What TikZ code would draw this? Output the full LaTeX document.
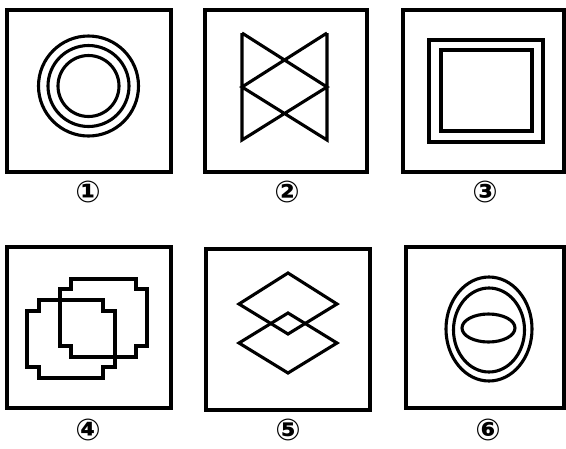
\documentclass[tikz,border=0pt]{standalone}
\usepackage{fontspec}
\newfontfamily\symfont{DejaVu Sans}
\tikzstyle{frame} = [
    line width=3.5pt,
    draw=black
]
\tikzstyle{figline} = [
    line width=3.1pt,
    draw=black
]
\tikzstyle{tag} = [
    font=\symfont\bfseries\fontsize{30}{30}\selectfont,
    inner sep=0pt
]

\begin{document}
\begin{tikzpicture}[x=1pt, y=-1pt]
\useasboundingbox (0,0) rectangle (566,448);

\draw [frame] (7,10) rectangle (171,172);
\draw [frame] (205,10) rectangle (367,172);
\draw [frame] (403,10) rectangle (564,172);
\draw [frame] (7,247) rectangle (171,408);
\draw [frame] (206,249) rectangle (370,410);
\draw [frame] (406,247) rectangle (564,408);

% circles
\draw [figline] (88.5,86) circle (50);
\draw [figline] (88.5,86) circle (40.5);
\draw [figline] (88.5,86) circle (30.5);

% bow ties
\draw [figline, line join=miter] (242,33) -- (242,140) -- (327,87) -- (242,33)
    (327,33) -- (327,140) -- (242,87) -- (327,33);

% squares
\draw [figline] (429,40) rectangle (543,142);
\draw [figline] (441,50) rectangle (532,131);

% stepped shapes
\draw [figline] (39,300) -- (103,300) -- (103,311) -- (115,311) -- (115,367)
    -- (103,367) -- (103,378) -- (39,378) -- (39,367) -- (27,367)
    -- (27,311) -- (39,311) -- cycle;
\draw [figline] (71,279) -- (136,279) -- (136,289) -- (147,289) -- (147,346)
    -- (136,346) -- (136,357) -- (71,357) -- (71,346) -- (60,346)
    -- (60,289) -- (71,289) -- cycle;

% diamonds
\draw [figline] (288,273) -- (337,304) -- (288,334) -- (239,304) -- cycle;
\draw [figline] (288,313) -- (337,343) -- (288,373) -- (239,343) -- cycle;

% ellipses
\draw [figline] (489,329) ellipse (43 and 52);
\draw [figline] (489,330) ellipse (35.5 and 42);
\draw [figline] (488.5,328) ellipse (26.5 and 14);

\node (tag1) [tag] at (88,192) {①};
\node (tag2) [tag] at (287,192) {②};
\node (tag3) [tag] at (485,192) {③};
\node (tag4) [tag] at (88,430) {④};
\node (tag5) [tag] at (288,430) {⑤};
\node (tag6) [tag] at (488,430) {⑥};

\end{tikzpicture}
\end{document}
